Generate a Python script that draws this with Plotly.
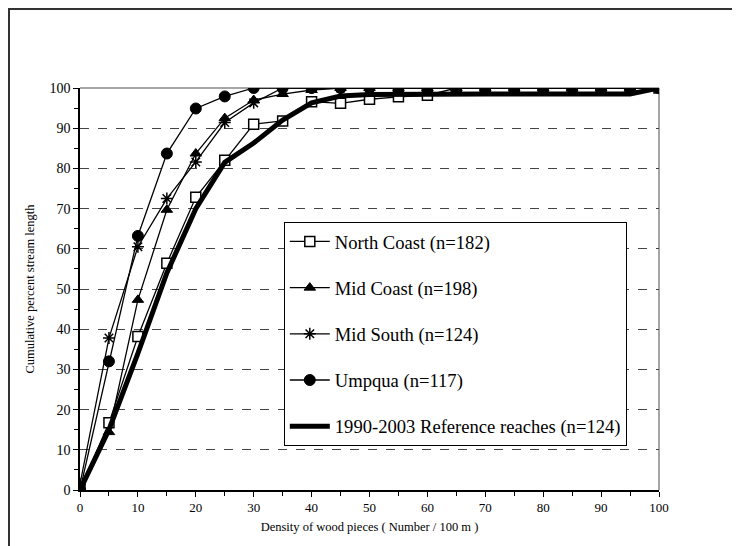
import plotly.graph_objects as go

density = [0, 5, 10, 15, 20, 25, 30, 35, 40, 45, 50, 55, 60, 65, 70, 75, 80, 85, 90, 95, 100]

north_coast = [0, 16.7, 38.2, 56.4, 72.8, 82.0, 91.0, 91.8, 96.6, 96.2, 97.2, 97.8, 98.2,
               100, 100, 100, 100, 100, 100, 100, 100]
mid_coast = [0, 14.4, 47.3, 69.7, 83.7, 92.5, 97.0, 98.5, 99.5, 100, 100, 100, 100,
             100, 100, 100, 100, 100, 100, 100, 100]
mid_south = [1.5, 37.8, 60.5, 72.5, 81.6, 91.4, 96.3, 100, 100, 100, 100, 100, 100,
             100, 100, 100, 100, 100, 100, 100, 100]
umpqua = [0, 32.0, 63.2, 83.7, 94.9, 97.9, 100, 100, 100, 100, 100, 100, 100,
          100, 100, 100, 100, 100, 100, 100, 100]
reference = [0, 15.0, 34.0, 54.0, 70.0, 81.5, 86.3, 92.0, 96.3, 98.0, 98.4, 98.5, 98.5,
             98.5, 98.5, 98.5, 98.5, 98.5, 98.5, 98.5, 100]

names = ["North Coast (n=182)", "Mid Coast (n=198)", "Mid South (n=124)",
         "Umpqua (n=117)", "1990-2003 Reference reaches (n=124)"]

FONT = "Liberation Serif"

fig = go.Figure()

fig.add_trace(go.Scatter(
    x=density, y=north_coast, name=names[0], mode="lines+markers", legendgroup="a",
    line=dict(color="black", width=1.3),
    marker=dict(symbol="square", size=10, color="white", line=dict(color="black", width=1.5))))
fig.add_trace(go.Scatter(
    x=density, y=mid_coast, name=names[1], mode="lines+markers", legendgroup="b",
    line=dict(color="black", width=1.3),
    marker=dict(symbol="triangle-up", size=10, color="black", line=dict(color="black", width=1))))
fig.add_trace(go.Scatter(
    x=density, y=mid_south, name=names[2], mode="lines+markers", legendgroup="c",
    line=dict(color="black", width=1.3),
    marker=dict(symbol="asterisk", size=10, color="black", line=dict(color="black", width=1.5))))
fig.add_trace(go.Scatter(
    x=density, y=umpqua, name=names[3], mode="lines+markers", legendgroup="d",
    line=dict(color="black", width=1.3),
    marker=dict(symbol="circle", size=11, color="black", line=dict(color="black", width=1))))
fig.add_trace(go.Scatter(
    x=density, y=reference, name=names[4], mode="lines", legendgroup="e",
    line=dict(color="black", width=5)))

fig.update_layout(
    width=740, height=546,
    margin=dict(l=72, r=89, t=80, b=63.5),
    paper_bgcolor="white", plot_bgcolor="white",
    font=dict(family=FONT, color="black", size=13),
    showlegend=True,
    legend=dict(
        x=0.352, y=0.667, xanchor="left", yanchor="top",
        bgcolor="white", bordercolor="black", borderwidth=1,
        font=dict(family=FONT, size=18.6, color="black"),
        tracegroupgap=19, itemwidth=40,
    ),
    xaxis=dict(
        range=[0, 100], tick0=0, dtick=10, showgrid=False, zeroline=False,
        showline=True, linecolor="black", linewidth=1.5,
        ticks="outside", ticklen=5, tickcolor="black",
        minor=dict(dtick=5, ticks="outside", ticklen=4, tickcolor="black"),
        tickfont=dict(family=FONT, size=13),
        title=dict(text="Density of wood pieces ( Number / 100 m )",
                   font=dict(family=FONT, size=12.5), standoff=8),
    ),
    yaxis=dict(
        range=[0, 100], tick0=0, dtick=10, zeroline=False,
        showgrid=True, gridcolor="#444444", griddash="dash", gridwidth=1,
        showline=True, linecolor="black", linewidth=1.5,
        ticks="outside", ticklen=5, tickcolor="black",
        minor=dict(dtick=5, ticks="outside", ticklen=4, tickcolor="black", showgrid=False),
        tickfont=dict(family=FONT, size=14),
        title=dict(text="Cumulative percent stream length",
                   font=dict(family=FONT, size=12.5), standoff=12),
    ),
    shapes=[
        dict(type="line", xref="paper", yref="paper", x0=0, x1=1, y0=1, y1=1,
             line=dict(color="#888888", width=1.5), layer="below"),
        dict(type="line", xref="paper", yref="paper", x0=1, x1=1, y0=0, y1=1,
             line=dict(color="#888888", width=1.5), layer="below"),
        dict(type="rect", xref="paper", yref="paper",
             x0=-71.0 / 579, x1=1.3, y0=-0.3, y1=1 + 79.0 / 402.5,
             line=dict(color="#333333", width=2), fillcolor="rgba(0,0,0,0)", layer="below"),
    ],
)

fig.write_html("out.html")
